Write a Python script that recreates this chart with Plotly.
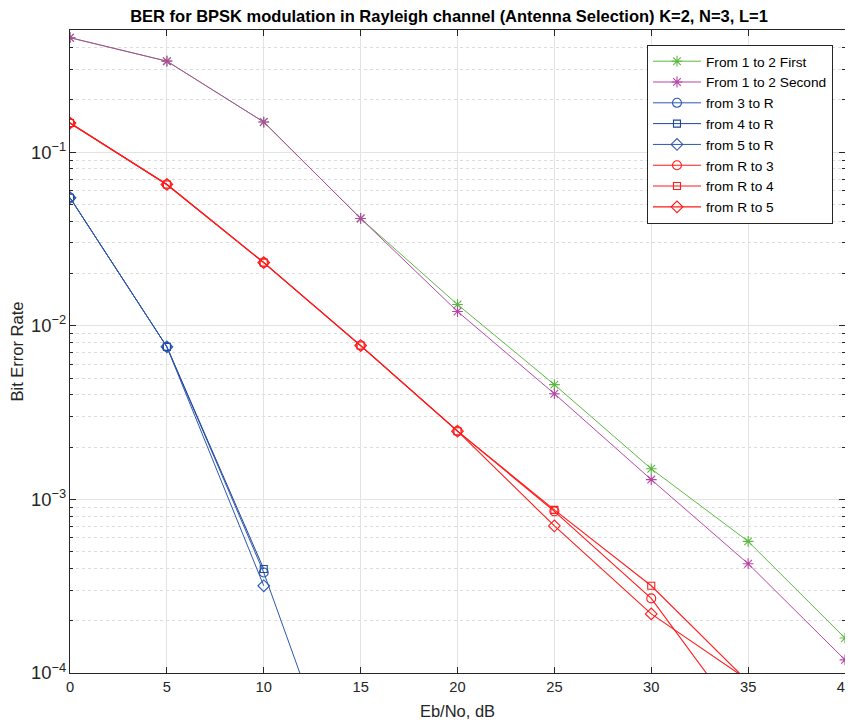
import plotly.graph_objects as go
import numpy as np

snr = [0, 5, 10, 15, 20, 25, 30, 35, 40]
snr_relay = [0, 5, 10, 15]
snr_r = [0, 5, 10, 15, 20, 25, 30, 35]

ber_1to2_first = [0.456, 0.334, 0.149, 0.0415, 0.01325, 0.00458, 0.00150, 0.000573, 0.000159]
ber_1to2_second = [0.456, 0.334, 0.149, 0.0415, 0.01208, 0.00406, 0.00130, 0.000426, 0.000119]

ber_3toR = [0.0546, 0.00756, 0.000379, 1.06e-5]
ber_4toR = [0.0546, 0.00756, 0.000397, None]
ber_5toR = [0.0546, 0.00756, 0.000318, None]

ber_Rto3 = [0.147, 0.0651, 0.0231, 0.00769, 0.00247, 0.000853, 0.000269, 4.7e-5]
ber_Rto4 = [0.147, 0.0651, 0.0231, 0.00769, 0.00247, 0.000870, 0.000318, 8.9e-5]
ber_Rto5 = [0.147, 0.0651, 0.0231, 0.00769, 0.00247, 0.000703, 0.000219, 9.1e-5]

GREEN = "#5cb843"
MAGENTA = "#b646a6"
BLUE = "#2c57b3"
BLUE2 = "#1f4599"
RED = "#ff1a1a"

fig = go.Figure()

def add(x, y, name, color, symbol, size, width=1.0):
    fig.add_trace(go.Scatter(
        x=x, y=y, name=name, mode="lines+markers",
        line=dict(color=color, width=width),
        marker=dict(symbol=symbol, size=size, color=color,
                    line=dict(color=color, width=1.1)),
        cliponaxis=True,
    ))

add(snr, ber_1to2_first, "From 1 to 2 First", GREEN, "asterisk-open", 9)
add(snr, ber_1to2_second, "From 1 to 2 Second", MAGENTA, "asterisk-open", 9)
add(snr_relay, ber_3toR, "from 3 to R", BLUE, "circle-open", 9)
add(snr_relay, ber_4toR, "from 4 to R", BLUE2, "square-open", 7)
add(snr_relay, ber_5toR, "from 5 to R", BLUE, "diamond-open", 9)
add(snr_r, ber_Rto3, "from R to 3", RED, "circle-open", 9, 1.1)
add(snr_r, ber_Rto4, "from R to 4", RED, "square-open", 7, 1.1)
add(snr_r, ber_Rto5, "from R to 5", RED, "diamond-open", 9, 1.1)

axis_col = "#262626"
fig.update_layout(
    width=853, height=725,
    margin=dict(l=62, r=16, t=22, b=60, autoexpand=False),
    paper_bgcolor="white", plot_bgcolor="white",
    font=dict(family="Liberation Sans, Arial, sans-serif", size=14, color=axis_col),
    title=dict(text="<b>BER for BPSK modulation in Rayleigh channel (Antenna Selection) K=2, N=3, L=1</b>",
               x=(449 - 8) / 853, xanchor="center", xref="container",
               y=1 - 8 / 725, yanchor="middle", yref="container",
               font=dict(size=16.5, color="#000000")),
    legend=dict(x=0.9845, xanchor="right", y=0.977, yanchor="top",
                bgcolor="white", bordercolor=axis_col, borderwidth=1,
                font=dict(size=13.7, color="#000000"), tracegroupgap=0,
                itemwidth=48),
    showlegend=True,
)
fig.update_xaxes(
    range=[0, 40], tick0=0, dtick=5, automargin=False,
    showgrid=True, gridcolor="#e3e3e3", gridwidth=1,
    showline=True, linecolor=axis_col, linewidth=1, mirror="ticks",
    ticks="inside", ticklen=6, tickcolor=axis_col,
    zeroline=False,
    title=dict(text="Eb/No, dB", font=dict(size=16.5), standoff=11),
    tickfont=dict(size=14.7, color=axis_col),
)
fig.update_yaxes(
    type="log", range=[-4, np.log10(0.505)], dtick=1, automargin=False,
    exponentformat="power",
    showgrid=True, gridcolor="#e3e3e3", gridwidth=1,
    showline=True, linecolor=axis_col, linewidth=1, mirror="ticks",
    ticks="inside", ticklen=6, tickcolor=axis_col,
    zeroline=False,
    minor=dict(dtick="D1", showgrid=True, gridcolor="#dcdcdc", griddash="dot",
               ticks="inside", ticklen=3, tickcolor=axis_col),
    title=dict(text="Bit Error Rate", font=dict(size=16.5), standoff=4),
    tickfont=dict(size=14.7, color=axis_col),
)

fig.write_html("out.html")
